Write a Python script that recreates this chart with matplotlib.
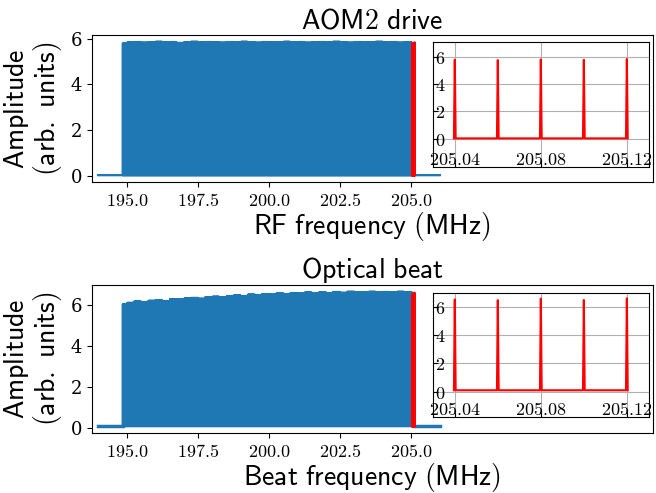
import numpy as np
import matplotlib
matplotlib.use("Agg")
import matplotlib.pyplot as plt

plt.rcParams['mathtext.fontset'] = 'cm'
plt.rcParams['font.family'] = 'serif'
plt.rcParams['font.serif'] = ['DejaVu Serif']
plt.rcParams['axes.formatter.use_mathtext'] = True

# ---------------- data ----------------
span_start, span_stop = 194.0, 206.0           # MHz, measured span
comb_start, comb_stop, comb_step = 194.86, 205.12, 0.02   # MHz, comb lines
peak_halfwidth = 0.0004                        # MHz
inset_lo, inset_hi = 205.03, 205.13            # MHz, zoomed region

# envelope of line amplitudes, read every 0.25 MHz from 194.875 MHz
aom_envelope = [5.80, 5.84, 5.86, 5.83, 5.85, 5.87, 5.84, 5.86, 5.82, 5.85,
                5.87, 5.84, 5.86, 5.85, 5.83, 5.86, 5.84, 5.87, 5.85, 5.83,
                5.86, 5.84, 5.85, 5.87, 5.84, 5.86, 5.83, 5.85, 5.86, 5.84,
                5.87, 5.85, 5.83, 5.86, 5.84, 5.85, 5.87, 5.84, 5.86, 5.83,
                5.85, 5.84]
beat_envelope = [6.05, 6.12, 6.18, 6.15, 6.22, 6.25, 6.20, 6.30, 6.28, 6.33,
                 6.36, 6.32, 6.40, 6.42, 6.38, 6.45, 6.48, 6.44, 6.52, 6.50,
                 6.55, 6.53, 6.58, 6.55, 6.60, 6.57, 6.62, 6.58, 6.63, 6.60,
                 6.65, 6.61, 6.66, 6.62, 6.64, 6.66, 6.62, 6.65, 6.63, 6.66,
                 6.62, 6.64]
envelope_start, envelope_step = 194.875, 0.25
aom_dip_freq, aom_dip_amp = 200.0, 5.40
beat_dip_freq, beat_dip_amp = 200.0, 5.65
aom_floor, beat_floor = 0.02, 0.10

# lines inside the zoomed region (205.04 ... 205.12 MHz)
inset_freqs = [205.04, 205.06, 205.08, 205.10, 205.12]
aom_inset_amps = [5.78, 5.75, 5.80, 5.77, 5.83]
beat_inset_amps = [6.52, 6.47, 6.58, 6.48, 6.60]

panels = [
    dict(title="AOM2 drive", xlabel=r"$\mathsf{RF\ frequency\ (MHz)}$",
         env=aom_envelope, floor=aom_floor, dip=(aom_dip_freq, aom_dip_amp),
         inset_amps=aom_inset_amps, inset_ylim=(-2.07, 7.07), floor_lw=1.5),
    dict(title="Optical beat", xlabel=r"$\mathsf{Beat\ frequency\ (MHz)}$",
         env=beat_envelope, floor=beat_floor, dip=(beat_dip_freq, beat_dip_amp),
         inset_amps=beat_inset_amps, inset_ylim=(-1.76, 7.0), floor_lw=2.5),
]


def build_spectrum(env, floor, dip, inset_amps):
    n = int(round((comb_stop - comb_start) / comb_step)) + 1
    freqs = np.round(comb_start + comb_step * np.arange(n), 4)
    amps = []
    for f in freqs:
        idx = int(round((f - envelope_start) / envelope_step))
        idx = min(max(idx, 0), len(env) - 1)
        a = env[idx]
        if abs(f - dip[0]) < 1e-6:
            a = dip[1]
        for fi, ai in zip(inset_freqs, inset_amps):
            if abs(f - fi) < 1e-6:
                a = ai
        amps.append(a)
    xs = [span_start]
    ys = [floor]
    for f, a in zip(freqs, amps):
        xs += [f - peak_halfwidth, f, f + peak_halfwidth]
        ys += [floor, a, floor]
    xs.append(span_stop)
    ys.append(floor)
    return np.array(xs), np.array(ys)


fig = plt.figure(figsize=(6.56, 4.93), dpi=100)
boxes = [[0.140, 0.631, 0.855, 0.298], [0.140, 0.122, 0.855, 0.300]]
inset_boxes = [[0.608, 0.102, 0.385, 0.85], [0.608, 0.11, 0.385, 0.838]]

for p, box, ibox in zip(panels, boxes, inset_boxes):
    ax = fig.add_axes(box)
    x, y = build_spectrum(p["env"], p["floor"], p["dip"], p["inset_amps"])
    ax.plot(x, y, color='#1f77b4', lw=1.5)
    # thicker noise floor outside the comb
    fl = (x < comb_start - peak_halfwidth / 2) | (x > comb_stop + peak_halfwidth / 2)
    ax.plot(x[fl & (x < comb_start)], y[fl & (x < comb_start)], color='#1f77b4', lw=p["floor_lw"])
    ax.plot(x[fl & (x > comb_stop)], y[fl & (x > comb_stop)], color='#1f77b4', lw=p["floor_lw"])
    m = (x >= inset_lo) & (x <= inset_hi)
    ax.plot(x[m], y[m], color='red', lw=1.8)
    ax.set_xlim(193.77, 213.5)
    ax.set_xticks([195.0, 197.5, 200.0, 202.5, 205.0])
    ax.set_xticklabels([r"$195.0$", r"$197.5$", r"$200.0$", r"$202.5$", r"$205.0$"])
    ax.tick_params(labelsize=13, length=3.5)
    ax.set_xlabel(p["xlabel"], fontsize=20, labelpad=0)
    ax.set_ylabel(r"$\mathsf{Amplitude}$" + "\n" + r"$\mathsf{(arb.\ units)}$",
                  fontsize=20, labelpad=4, linespacing=1.0)
    ax.set_title(r"$\mathsf{%s}$" % p["title"].replace(" ", r"\ "), fontsize=20, pad=5)

    ins = ax.inset_axes(ibox)
    ins.plot(x[m], y[m], color='red', lw=1.5, zorder=3)
    ins.set_xlim(205.0298, 205.1302)
    ins.set_ylim(*p["inset_ylim"])
    ins.set_xticks([205.04, 205.08, 205.12])
    ins.set_xticklabels([r"$205.04$", r"$205.08$", r"$205.12$"])
    ins.set_yticks([0, 2, 4, 6])
    ins.set_yticklabels([r"$0$", r"$2$", r"$4$", r"$6$"])
    ins.grid(True, color='#b0b0b0', lw=0.8)
    ins.tick_params(direction='in', labelsize=13, length=3.5)
    ins.tick_params(axis='x', pad=-11.5)
    ins.tick_params(axis='y', pad=-9)

fig.savefig("out.png", dpi=100)
